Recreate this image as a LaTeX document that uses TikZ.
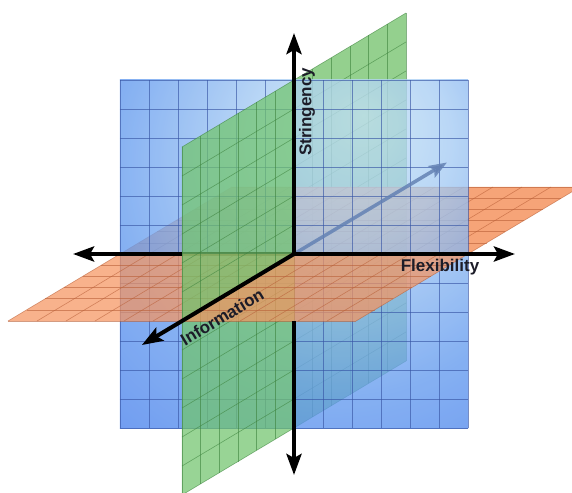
\documentclass[tikz,border=0pt]{standalone}
\usepackage{fontspec}
\setmainfont{Liberation Sans}
\usetikzlibrary{arrows.meta}
\definecolor{blueedge}{RGB}{52,110,236}
\definecolor{bluemid}{RGB}{100,155,238}
\definecolor{blueglow}{RGB}{195,225,245}
\definecolor{gback}{RGB}{148,208,142}
\definecolor{gfront}{RGB}{112,196,108}
\definecolor{ofill}{RGB}{245,148,96}
\definecolor{ggridc}{RGB}{60,130,60}
\definecolor{ogridc}{RGB}{185,95,55}
\definecolor{bgridc}{RGB}{55,85,165}
\definecolor{backarrow}{RGB}{100,130,180}
\definecolor{labelc}{RGB}{28,28,40}
\pgfdeclareradialshading{bluesh}{\pgfpoint{10bp}{20bp}}{color(0bp)=(blueglow); color(14bp)=(blueglow!70!bluemid); color(32bp)=(bluemid); color(55bp)=(blueedge); color(80bp)=(blueedge)}
\begin{document}
\begin{tikzpicture}[x={(29pt,0pt)}, y={(0pt,29pt)}, z={(-18.667pt,-11.167pt)},
  axisline/.style={line width=4pt, draw=black},
  axisarrow/.style={line width=4pt, draw=black, -{Stealth[length=21pt,width=15pt,inset=4pt]}},
  ggrid/.style={draw=ggridc, line width=0.6pt, draw opacity=0.6},
  ogrid/.style={draw=ogridc, line width=0.6pt, draw opacity=0.6},
  bgrid/.style={draw=bgridc, line width=0.7pt, draw opacity=0.65},
  greenback/.style={fill=gback},
  greenfront/.style={fill=gfront, fill opacity=0.72},
  orangeplane/.style={fill=ofill, fill opacity=0.72},
  lbl/.style={font=\fontsize{17pt}{20pt}\selectfont\bfseries, text=labelc, inner sep=0pt}]
\useasboundingbox (-294pt,-238pt) rectangle (278pt,254pt);
\clip (-294pt,-238pt) rectangle (278pt,254pt);
% key points
\coordinate (O) at (0,0,0);
\coordinate (T) at (0,7.62,0);
\coordinate (B) at (0,-7.62,0);
\coordinate (L) at (-7.62,0,0);
\coordinate (R) at (7.62,0,0);
\coordinate (I) at (0,0,8.15);
\coordinate (K) at (0,0,-8.2);
\coordinate (M) at (-3.862,0,0);
\coordinate (E) at (0,-2.31,0);
% green plane, back half
\fill[greenback] (0,-6,0) -- (0,6,0) -- (0,6,-6) -- (0,-6,-6) -- cycle;
\foreach \k in {-6,...,-1} \draw[ggrid] (0,-6,\k) -- (0,6,\k);
\foreach \j in {-6,...,6} \draw[ggrid] (0,\j,-6) -- (0,\j,0);
% orange plane, back half
\fill[fill=ofill, fill opacity=0.85] (-6,0,0) -- (6,0,0) -- (6,0,-6) -- (-6,0,-6) -- cycle;
\foreach \k in {-6,...,-1} \draw[ogrid] (-6,0,\k) -- (6,0,\k);
\foreach \i in {-6,...,6} \draw[ogrid] (\i,0,-6) -- (\i,0,0);
% blue plane
\shade[shading=bluesh, fill opacity=0.78] (-6,-6,0) -- (6,-6,0) -- (6,6,0) -- (-6,6,0) -- cycle;
\foreach \i in {-6,...,6} {
  \draw[bgrid] (\i,-6,0) -- (\i,6,0);
  \draw[bgrid] (-6,\i,0) -- (6,\i,0);
}
% back depth arrow (seen through blue)
\draw[line width=3.5pt, draw=backarrow, draw opacity=0.85, -{Stealth[length=18pt,width=13pt,inset=3pt]}] (O) -- (K);
% horizontal axis segment under green
\draw[axisline] (O) -- (M);
% green plane, front lower quarter
\fill[greenfront] (0,-6,0) -- (0,0,0) -- (0,0,6) -- (0,-6,6) -- cycle;
\foreach \k in {0,...,6} \draw[ggrid] (0,-6,\k) -- (0,0,\k);
\foreach \j in {-6,...,0} \draw[ggrid] (0,\j,0) -- (0,\j,6);
% orange plane, front right quarter
\fill[orangeplane] (0,0,0) -- (6,0,0) -- (6,0,6) -- (0,0,6) -- cycle;
\foreach \k in {0,...,6} \draw[ogrid] (0,0,\k) -- (6,0,\k);
\foreach \i in {0,...,6} \draw[ogrid] (\i,0,0) -- (\i,0,6);
% orange plane, front left quarter
\fill[orangeplane] (-6,0,0) -- (0,0,0) -- (0,0,6) -- (-6,0,6) -- cycle;
\foreach \k in {0,...,6} \draw[ogrid] (-6,0,\k) -- (0,0,\k);
\foreach \i in {-6,...,0} \draw[ogrid] (\i,0,0) -- (\i,0,6);
% green plane, front upper quarter
\fill[greenfront] (0,0,0) -- (0,6,0) -- (0,6,6) -- (0,0,6) -- cycle;
\foreach \k in {0,...,6} \draw[ggrid] (0,0,\k) -- (0,6,\k);
\foreach \j in {0,...,6} \draw[ggrid] (0,\j,0) -- (0,\j,6);
% axes on top
\draw[axisarrow] (E) -- (B);
\draw[axisarrow] (M) -- (L);
\draw[axisarrow] (O) -- (T);
\draw[axisarrow] (O) -- (R);
\draw[axisarrow] (O) -- (I);
% labels
\node[lbl, rotate=90] (sl) at (13pt,142pt) {Stringency};
\node[lbl] (fl) at (146pt,-13pt) {Flexibility};
\node[lbl, rotate=31] (il) at (-72pt,-63pt) {Information};
\end{tikzpicture}
\end{document}
